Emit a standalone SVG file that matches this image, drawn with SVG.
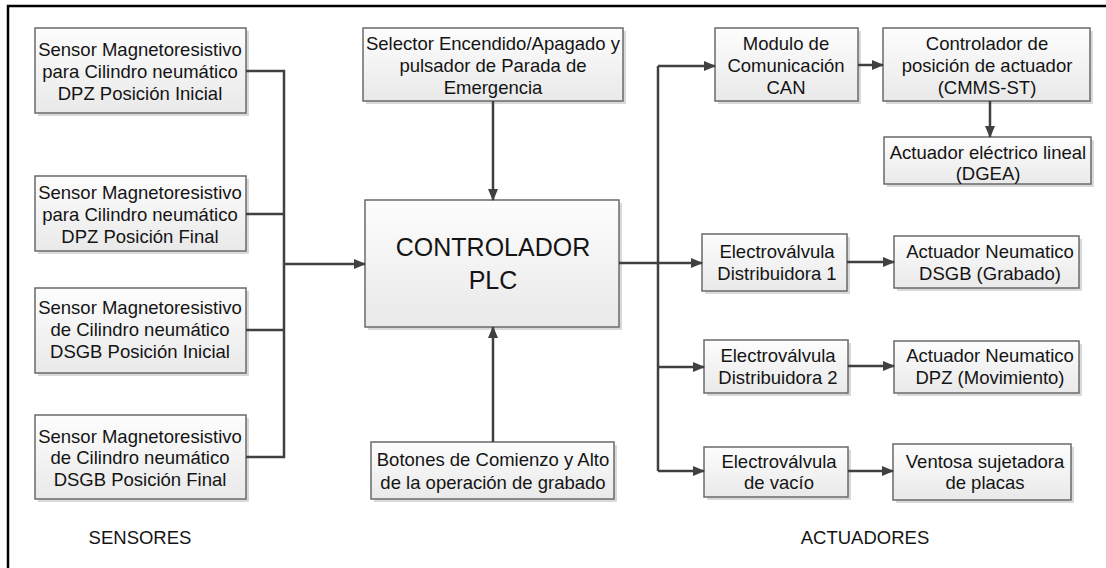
<svg xmlns="http://www.w3.org/2000/svg" width="1106" height="568" viewBox="0 0 1106 568">
<defs>
<linearGradient id="g" x1="0" y1="0" x2="0" y2="1">
<stop offset="0" stop-color="#fdfdfd"/>
<stop offset="1" stop-color="#e9e9e9"/>
</linearGradient>
<marker id="ar" markerWidth="12" markerHeight="10" refX="11" refY="5" orient="auto" markerUnits="userSpaceOnUse">
<path d="M0,0 L12,5 L0,10 Z" fill="#404040"/>
</marker>
</defs>
<style>
.b{fill:url(#g);stroke:#6a6a6a;stroke-width:1.5}
.s{fill:#d9d9d9;stroke:none}
text{font-family:"Liberation Sans",Arial,sans-serif;font-size:18.5px;fill:#141414;text-anchor:middle}
.big{font-size:25px}
.c{fill:none;stroke:#404040;stroke-width:2.5}
.ca{fill:none;stroke:#404040;stroke-width:2.5;marker-end:url(#ar)}
</style>
<rect width="1106" height="568" fill="#fff"/>
<path d="M8,568 V6 H1106" fill="none" stroke="#000" stroke-width="2.5"/>

<g id="s1"><rect class="s" x="38" y="31" width="211" height="85"/><rect class="b" x="35" y="28" width="211" height="85"/>
<text x="140" y="56">Sensor Magnetoresistivo</text><text x="140" y="78">para Cilindro neumático</text><text x="140" y="100">DPZ Posición Inicial</text></g>
<g id="s2"><rect class="s" x="38" y="179" width="211" height="75"/><rect class="b" x="35" y="176" width="211" height="75"/>
<text x="140" y="199">Sensor Magnetoresistivo</text><text x="140" y="221">para Cilindro neumático</text><text x="140" y="243">DPZ Posición Final</text></g>
<g id="s3"><rect class="s" x="38" y="291" width="211" height="85"/><rect class="b" x="35" y="288" width="211" height="85"/>
<text x="140" y="314">Sensor Magnetoresistivo</text><text x="140" y="336">de Cilindro neumático</text><text x="140" y="358">DSGB Posición Inicial</text></g>
<g id="s4"><rect class="s" x="38" y="418" width="211" height="84"/><rect class="b" x="35" y="415" width="211" height="84"/>
<text x="140" y="443">Sensor Magnetoresistivo</text><text x="140" y="464">de Cilindro neumático</text><text x="140" y="486">DSGB Posición Final</text></g>

<g id="selector"><rect class="s" x="366" y="31" width="260" height="73"/><rect class="b" x="363" y="28" width="260" height="73"/>
<text x="493" y="50">Selector Encendido/Apagado y</text><text x="493" y="72">pulsador de Parada de</text><text x="493" y="94">Emergencia</text></g>
<g id="plc"><rect class="s" x="368" y="203" width="254" height="127"/><rect class="b" x="365" y="200" width="254" height="127"/>
<text class="big" x="493" y="256">CONTROLADOR</text><text class="big" x="493" y="289">PLC</text></g>
<g id="botones"><rect class="s" x="374" y="445" width="243" height="57"/><rect class="b" x="371" y="442" width="243" height="57"/>
<text x="493" y="466">Botones de Comienzo y Alto</text><text x="493" y="489">de la operación de grabado</text></g>

<g id="can"><rect class="s" x="718" y="31" width="143" height="73"/><rect class="b" x="715" y="28" width="143" height="73"/>
<text x="786" y="50">Modulo de</text><text x="786" y="72">Comunicación</text><text x="786" y="94">CAN</text></g>
<g id="cmms"><rect class="s" x="886" y="31" width="207" height="73"/><rect class="b" x="883" y="28" width="207" height="73"/>
<text x="987" y="50">Controlador de</text><text x="987" y="72">posición de actuador</text><text x="987" y="94">(CMMS-ST)</text></g>
<g id="dgea"><rect class="s" x="887" y="140" width="207" height="47"/><rect class="b" x="884" y="137" width="207" height="47"/>
<text x="988" y="159">Actuador eléctrico lineal</text><text x="988" y="180">(DGEA)</text></g>

<g id="ev1"><rect class="s" x="705" y="237" width="145" height="57"/><rect class="b" x="702" y="234" width="145" height="57"/>
<text x="777" y="258">Electroválvula</text><text x="777" y="280">Distribuidora 1</text></g>
<g id="dsgb"><rect class="s" x="897" y="239" width="185" height="52"/><rect class="b" x="894" y="236" width="185" height="52"/>
<text x="990" y="258">Actuador Neumatico</text><text x="990" y="280">DSGB (Grabado)</text></g>
<g id="ev2"><rect class="s" x="707" y="343" width="144" height="53"/><rect class="b" x="704" y="340" width="144" height="53"/>
<text x="778" y="362">Electroválvula</text><text x="778" y="384">Distribuidora 2</text></g>
<g id="dpz"><rect class="s" x="897" y="344" width="185" height="52"/><rect class="b" x="894" y="341" width="185" height="52"/>
<text x="990" y="362">Actuador Neumatico</text><text x="990" y="384">DPZ (Movimiento)</text></g>
<g id="ev3"><rect class="s" x="707" y="450" width="144" height="50"/><rect class="b" x="704" y="447" width="144" height="50"/>
<text x="779" y="468">Electroválvula</text><text x="779" y="489">de vacío</text></g>
<g id="ventosa"><rect class="s" x="896" y="447" width="178" height="56"/><rect class="b" x="893" y="444" width="178" height="56"/>
<text x="985" y="468">Ventosa sujetadora</text><text x="985" y="489">de placas</text></g>

<g id="labels">
<text x="140" y="544">SENSORES</text>
<text x="865" y="544">ACTUADORES</text>
</g>

<g id="connectors">
<path class="c" d="M246,71 H284 V457 H246 M246,214 H284 M246,330 H284"/>
<path class="ca" d="M284,264 H365"/>
<path class="ca" d="M493,101 V200"/>
<path class="ca" d="M493,442 V327"/>
<path class="c" d="M619,263 H658 M658,66 V471"/>
<path class="ca" d="M658,66 H715"/>
<path class="ca" d="M658,263 H702"/>
<path class="ca" d="M658,367 H704"/>
<path class="ca" d="M658,471 H704"/>
<path class="ca" d="M858,65 H883"/>
<path class="ca" d="M990,101 V137"/>
<path class="ca" d="M847,262 H894"/>
<path class="ca" d="M848,366 H894"/>
<path class="ca" d="M848,471 H893"/>
</g>
</svg>
